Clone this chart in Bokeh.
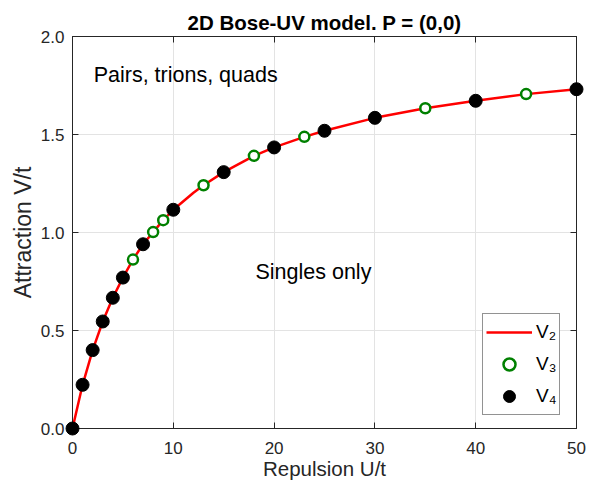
from bokeh.plotting import figure
from bokeh.models import (Range1d, LinearAxis, FixedTicker, Legend, LegendItem,
                          Label, ColumnDataSource, NumeralTickFormatter,
                          CustomLabelingPolicy)
from bokeh.embed import file_html
from bokeh.resources import INLINE

# ---- data ----
title_text = "2D Bose-UV model. P = (0,0)"
x_label = "Repulsion U/t"
y_label = "Attraction V/t"
x_ticks = [0, 10, 20, 30, 40, 50]
y_ticks = [0.0, 0.5, 1.0, 1.5, 2.0]

v2_u = [0, 1, 2, 3, 4, 5, 6, 7, 8, 9, 10, 12, 13, 15, 18, 20, 23, 25, 30, 35, 40, 45, 50]
v2_v = [0, 0.223, 0.400, 0.546, 0.667, 0.770, 0.862, 0.940, 1.002, 1.063, 1.116, 1.203,
        1.241, 1.308, 1.391, 1.434, 1.488, 1.519, 1.585, 1.634, 1.672, 1.706, 1.731]

v3_u = [6, 8, 9, 13, 18, 23, 35, 45]
v3_v = [0.862, 1.002, 1.063, 1.241, 1.391, 1.488, 1.634, 1.706]

v4_u = [0, 1, 2, 3, 4, 5, 7, 10, 15, 20, 25, 30, 40, 50]
v4_v = [0, 0.223, 0.400, 0.546, 0.667, 0.770, 0.940, 1.116, 1.308, 1.434, 1.519,
        1.585, 1.672, 1.731]

series_names = ["V\u2082", "V\u2083", "V\u2084"]

FONT = "Liberation Sans"
AX = "#262626"

p = figure(frame_width=504, frame_height=392,
           min_border_left=72, min_border_right=19, min_border_top=36, min_border_bottom=57,
           x_range=Range1d(0, 50), y_range=Range1d(0, 2),
           output_backend="svg", toolbar_location=None, title=title_text)

p.title.align = "center"
p.title.text_font = FONT
p.title.text_font_size = "20.5px"
p.title.text_font_style = "bold"
p.title.text_color = "black"
p.title.standoff = 6

p.background_fill_color = "white"
p.border_fill_color = "white"
p.outline_line_color = AX
p.outline_line_width = 1

no_labels = CustomLabelingPolicy(code="""
try { for (const i of Array.from(indices)) { indices.unset(i) } } catch (e) {}
return indices
""")

def style_axis(ax, labels=True):
    ax.major_tick_in = 6
    ax.major_tick_out = 0
    ax.minor_tick_line_color = None
    ax.axis_line_color = AX
    ax.major_tick_line_color = AX
    ax.major_label_text_font = FONT
    ax.major_label_text_color = AX
    ax.major_label_text_font_size = "17px"
    ax.axis_label_text_font = FONT
    ax.axis_label_text_font_style = "normal"
    ax.axis_label_text_color = AX
    if not labels:
        ax.major_label_policy = no_labels
        ax.major_label_text_font_size = "0px"
        ax.major_label_standoff = 0

xa = p.xaxis[0]
ya = p.yaxis[0]
xa.ticker = FixedTicker(ticks=x_ticks)
ya.ticker = FixedTicker(ticks=y_ticks)
ya.formatter = NumeralTickFormatter(format="0.0")
style_axis(xa)
style_axis(ya)
xa.axis_label = x_label
ya.axis_label = y_label
xa.axis_label_text_font_size = "20.5px"
ya.axis_label_text_font_size = "23px"
xa.major_label_standoff = 13
ya.major_label_standoff = 8
xa.axis_label_standoff = 0
ya.axis_label_standoff = 2

top = LinearAxis(ticker=FixedTicker(ticks=x_ticks))
right = LinearAxis(ticker=FixedTicker(ticks=y_ticks))
style_axis(top, labels=False)
style_axis(right, labels=False)
p.add_layout(top, "above")
p.add_layout(right, "right")

p.xgrid.ticker = FixedTicker(ticks=x_ticks)
p.ygrid.ticker = FixedTicker(ticks=y_ticks)
p.grid.grid_line_color = "#e3e3e3"
p.grid.grid_line_width = 1

s2 = ColumnDataSource(dict(u=v2_u, v=v2_v))
s3 = ColumnDataSource(dict(u=v3_u, v=v3_v))
s4 = ColumnDataSource(dict(u=v4_u, v=v4_v))

r2 = p.line("u", "v", source=s2, line_color="#ff0000", line_width=2.5)
r3 = p.scatter("u", "v", source=s3, marker="circle", size=10, fill_color="white",
               line_color="#008000", line_width=2.5)
r4 = p.scatter("u", "v", source=s4, marker="circle", size=13, fill_color="black",
               line_color="black", level="overlay")

p.add_layout(Label(x=2.1, y=1.806, text="Pairs, trions, quads", text_font=FONT,
                   text_font_size="21.5px", text_baseline="middle", text_color="black"))
p.add_layout(Label(x=18.15, y=0.80, text="Singles only", text_font=FONT,
                   text_font_size="21.5px", text_baseline="middle", text_color="black"))

legend = Legend(items=[LegendItem(label=series_names[0], renderers=[r2]),
                       LegendItem(label=series_names[1], renderers=[r3]),
                       LegendItem(label=series_names[2], renderers=[r4])],
                location=(410, 13), glyph_width=46, glyph_height=30, label_height=20,
                spacing=2, padding=3, label_standoff=4,
                border_line_color=AX, border_line_width=1,
                label_text_font=FONT, label_text_font_size="19px", label_text_color="black",
                background_fill_color="white", background_fill_alpha=1)
p.add_layout(legend)

open("out.html", "w").write(file_html(p, INLINE))
